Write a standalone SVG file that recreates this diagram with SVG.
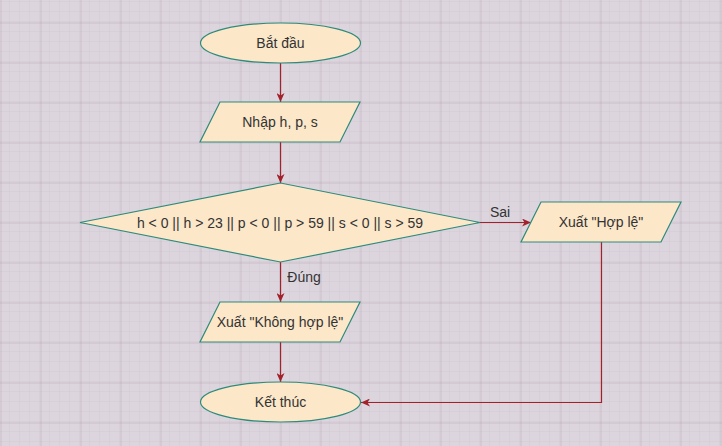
<svg xmlns="http://www.w3.org/2000/svg" width="722" height="446" viewBox="0 0 722 446">
<defs>
<pattern id="minor" x="0" y="2" width="10" height="10" patternUnits="userSpaceOnUse">
<path d="M10 0 V10 M0 10 H10" fill="none" stroke="#d3cad4" stroke-width="1"/>
</pattern>
<pattern id="major" x="0.5" y="22.5" width="40" height="40" patternUnits="userSpaceOnUse">
<path d="M0 0 V40 M0 0 H40" fill="none" stroke="#b4a8b6" stroke-width="1"/>
</pattern>
<marker id="arr" markerWidth="10" markerHeight="8" refX="9" refY="4" orient="auto" markerUnits="userSpaceOnUse">
<path d="M0,0 L9,4 L0,8 L2.5,4 z" fill="#a2212b"/>
</marker>
<style>
.shape{fill:#fce7c9;stroke:#2e8b7b;stroke-width:1.2}
.t{font-family:"Liberation Sans",Arial,sans-serif;font-size:14px;fill:#333;text-anchor:middle;dominant-baseline:central}
.edge{fill:none;stroke:#a2212b;stroke-width:1.2;marker-end:url(#arr)}
</style>
</defs>
<rect width="722" height="446" fill="#ddd5de"/>
<rect width="722" height="446" fill="url(#minor)"/>
<rect width="722" height="446" fill="url(#major)"/>
<g id="connectors">
<path class="edge" d="M280.5 63 V102"/>
<path class="edge" d="M280.5 142 V183"/>
<path class="edge" d="M280.5 262 V302"/>
<path class="edge" d="M480 222.5 H531"/>
<path class="edge" d="M601.5 242 V402.5 H361"/>
<path class="edge" d="M280.5 342 V382"/>
<text class="t" x="304" y="277">Đúng</text>
<text class="t" x="500" y="212">Sai</text>
</g>
<g id="start">
<ellipse class="shape" cx="280.5" cy="43" rx="80" ry="20"/>
<text class="t" x="280.5" y="43">Bắt đầu</text>
</g>
<g id="input">
<polygon class="shape" points="220,102 360,102 340,142 200,142"/>
<text class="t" x="280" y="122">Nhập h, p, s</text>
</g>
<g id="decision">
<polygon class="shape" points="80,222.5 280.5,183 480,222.5 280.5,262"/>
<text class="t" x="280" y="222.5">h &lt; 0 || h &gt; 23 || p &lt; 0 || p &gt; 59 || s &lt; 0 || s &gt; 59</text>
</g>
<g id="valid">
<polygon class="shape" points="541,202 681,202 661,242 521,242"/>
<text class="t" x="601" y="222">Xuất "Hợp lệ"</text>
</g>
<g id="invalid">
<polygon class="shape" points="220,302 360,302 340,342 200,342"/>
<text class="t" x="280" y="322">Xuất "Không hợp lệ"</text>
</g>
<g id="end">
<ellipse class="shape" cx="280.5" cy="402" rx="80" ry="20"/>
<text class="t" x="280.5" y="402">Kết thúc</text>
</g>
</svg>
